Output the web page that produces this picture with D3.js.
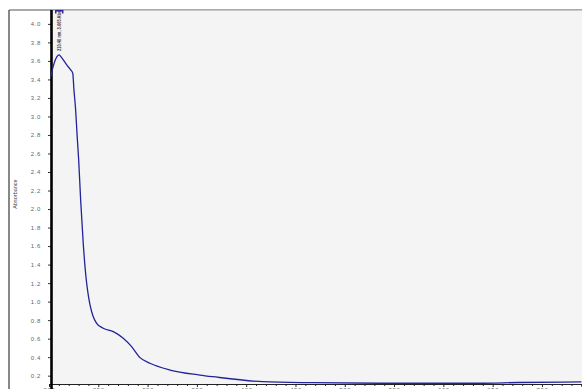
<!DOCTYPE html>
<html>
<head>
<meta charset="utf-8">
<script src="https://cdn.jsdelivr.net/npm/d3@7"></script>
<style>
  html, body { margin: 0; padding: 0; background: #ffffff; }
  svg { display: block; }
  text { font-family: "Liberation Sans", Arial, sans-serif; }
</style>
</head>
<body>
<svg id="chart" width="582" height="389"></svg>
<script>
// UV-Vis absorbance spectrum
const wavelengths = [202, 202.7, 205, 210.4, 212.2, 214.5, 218, 222, 224.1, 225.3, 226.8, 228.8, 230.1,
  232.1, 234.7, 237.5, 239.5, 241.6, 244.6, 248.3, 255, 265.2, 275.3, 283.8, 292.3, 302.4, 322.7,
  353.1, 366.3, 417, 467.7, 535.7, 637, 675.7, 740];
const absorbance = [3.43, 3.471, 3.568, 3.665, 3.643, 3.611, 3.557, 3.503, 3.467, 3.287, 3.103, 2.747, 2.531,
  2.098, 1.634, 1.266, 1.094, 0.964, 0.845, 0.766, 0.712, 0.675, 0.604, 0.513, 0.395, 0.334, 0.261,
  0.207, 0.189, 0.135, 0.124, 0.118, 0.118, 0.126, 0.132];
const yTickValues = d3.range(1, 21).map(i => +(i * 0.2).toFixed(1));
const xTickValues = [200, 250, 300, 350, 400, 450, 500, 550, 600, 650, 700];
const peakWavelength = 210.4;
const peakAbsorbance = 3.665;
const yTitle = "Absorbance";

const svg = d3.select("#chart");
const plot = { left: 51, top: 10, right: 582, bottom: 384 };

const x = d3.scaleLinear().domain([200, 740]).range([49, 581.4]);
const y = d3.scaleLinear().domain([0.11, 4.15]).range([plot.bottom, plot.top]);

// outer frame
svg.append("line").attr("x1", 9).attr("x2", 582).attr("y1", 10).attr("y2", 10)
  .attr("stroke", "#555").attr("stroke-width", 1.2);
svg.append("line").attr("x1", 9).attr("x2", 9).attr("y1", 10).attr("y2", 389)
  .attr("stroke", "#555").attr("stroke-width", 1.4);

// plot background
svg.append("rect").attr("x", plot.left).attr("y", plot.top + 0.6)
  .attr("width", plot.right - plot.left).attr("height", plot.bottom - plot.top)
  .attr("fill", "#f4f4f4");

// y axis
const yAxis = d3.axisLeft(y).tickValues(yTickValues).tickSize(3).tickPadding(7)
  .tickFormat(d3.format(".1f"));
const gy = svg.append("g").attr("transform", `translate(${plot.left},0)`).call(yAxis);
gy.select(".domain").remove();
gy.selectAll(".tick line").attr("stroke", "#333").attr("stroke-width", 1);
gy.selectAll(".tick text").attr("font-size", 6).attr("fill", "#666").attr("letter-spacing", 0.6);

// x axis with minor ticks
const minorTicks = d3.range(200, 741, 10).filter(v => v % 50 !== 0);
const gxMinor = svg.append("g").attr("transform", `translate(0,${plot.bottom})`)
  .call(d3.axisBottom(x).tickValues(minorTicks).tickSize(2).tickFormat(""));
gxMinor.select(".domain").remove();
gxMinor.selectAll(".tick line").attr("stroke", "#222");
const gx = svg.append("g").attr("transform", `translate(0,${plot.bottom})`)
  .call(d3.axisBottom(x).tickValues(xTickValues).tickSize(3).tickPadding(1));
gx.select(".domain").attr("stroke", "#222").attr("stroke-width", 1);
gx.selectAll(".tick line").attr("stroke", "#222");
gx.selectAll(".tick text").attr("font-size", 6).attr("fill", "#666").attr("letter-spacing", 0.6);

// thick y axis line
svg.append("line").attr("x1", plot.left + 0.5).attr("x2", plot.left + 0.5)
  .attr("y1", plot.top).attr("y2", 389)
  .attr("stroke", "#000").attr("stroke-width", 2.6);

// y axis title
svg.append("text")
  .attr("transform", `translate(17,194) rotate(-90)`)
  .attr("text-anchor", "middle")
  .attr("font-size", 5.5)
  .attr("fill", "#444")
  .text(yTitle);

// spectrum
const line = d3.line().x((d, i) => x(wavelengths[i])).y(d => y(d)).curve(d3.curveMonotoneX);
svg.append("path").datum(absorbance)
  .attr("d", line)
  .attr("fill", "none")
  .attr("stroke", "#23239a")
  .attr("stroke-width", 1.3)
  .attr("stroke-linejoin", "round");

// peak label
const px = x(peakWavelength);
svg.append("path")
  .attr("d", `M${px - 3.5},${plot.top + 3.5}V${plot.top + 0.8}H${px + 3.5}V${plot.top + 3.5}`)
  .attr("fill", "none").attr("stroke", "#23239a").attr("stroke-width", 1.4);
svg.append("text")
  .attr("transform", `translate(${px + 1.5},${y(peakAbsorbance) - 4}) rotate(-90)`)
  .attr("font-size", 5)
  .attr("font-weight", "bold")
  .attr("fill", "#333")
  .attr("textLength", 40)
  .attr("lengthAdjust", "spacingAndGlyphs")
  .text(`${peakWavelength.toFixed(2)} nm, ${peakAbsorbance.toFixed(3)} Abs`);
</script>
</body>
</html>
